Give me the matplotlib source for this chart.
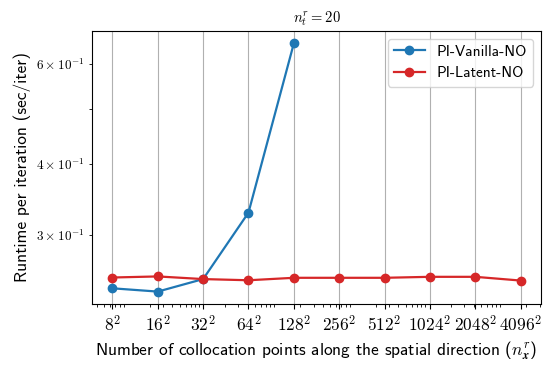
import matplotlib
matplotlib.use("Agg")
import math
import matplotlib.pyplot as plt
from matplotlib.ticker import FuncFormatter, NullFormatter

# collocation points along the spatial direction: n^2
n_side = [8, 16, 32, 64, 128, 256, 512, 1024, 2048, 4096]
vanilla_n = [8, 16, 32, 64, 128]
vanilla_time = [0.2418, 0.2386, 0.2510, 0.3285, 0.6517]
latent_time = [0.2526, 0.2537, 0.2510, 0.2498, 0.2523,
               0.2523, 0.2523, 0.2533, 0.2533, 0.2495]
ytick_mantissas = [3, 4, 6]

plt.rcParams['font.family'] = ['cmss10', 'DejaVu Sans']
plt.rcParams['mathtext.fontset'] = 'cm'
plt.rcParams['axes.unicode_minus'] = False


def sci_label(v, pos):
    e = math.floor(math.log10(v) + 1e-9)
    m = round(v / 10 ** e)
    if m in ytick_mantissas:
        return r'$%d\times10^{%d}$' % (m, e)
    return ''


fig = plt.figure(figsize=(5.56, 3.66), dpi=100)
ax = fig.add_axes([0.1655, 0.1694, 0.8075, 0.7459])

x_all = [n ** 2 for n in n_side]
x_van = [n ** 2 for n in vanilla_n]
ax.plot(x_van, vanilla_time, '-o', color='tab:blue', lw=1.6, ms=6,
        label='PI-Vanilla-NO')
ax.plot(x_all, latent_time, '-o', color='tab:red', lw=1.6, ms=6,
        label='PI-Latent-NO')

ax.set_xscale('log')
ax.set_yscale('log')
ax.set_xticks(x_all)
ax.set_xticklabels([r'$\mathsf{%d}^{\mathsf{2}}$' % n for n in n_side], fontsize=12.5)
ax.yaxis.set_minor_formatter(FuncFormatter(sci_label))
ax.yaxis.set_major_formatter(NullFormatter())
ax.tick_params(axis='y', which='both', labelsize=9.5)
ax.grid(True, axis='x', which='major', color='#b0b0b0', lw=0.8)

ax.set_xlabel(r'Number of collocation points along the spatial direction ($n_{\boldsymbol{x}}^r$)',
              fontsize=12.5)
ax.set_ylabel('Runtime per iteration (sec/iter)', fontsize=12.5)
ax.set_title(r'$n_t^r = 20$', fontsize=10.5)
ax.legend(loc='upper right', fontsize=11)

fig.savefig('out.png', dpi=100)
